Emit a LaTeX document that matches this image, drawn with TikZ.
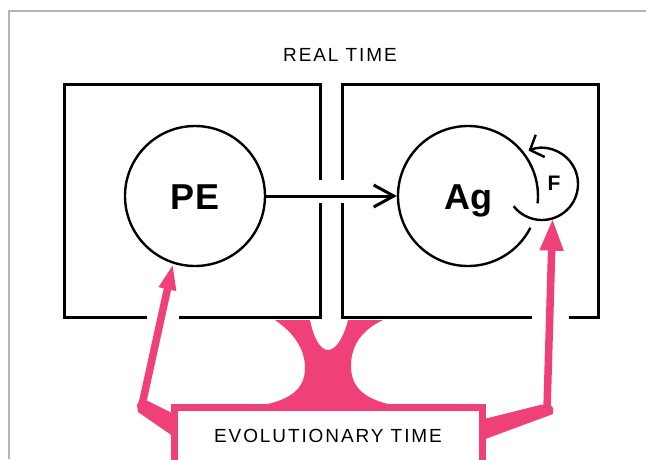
\documentclass[tikz,border=0pt]{standalone}
\usepackage{fontspec}
\setmainfont{Liberation Sans}
\usetikzlibrary{arrows.meta,positioning,backgrounds}
\definecolor{evopink}{HTML}{F04078}
\definecolor{framegray}{HTML}{B4B4B4}
\tikzset{
  ring/.style={circle,minimum size=140pt,inner sep=0pt,line width=2.4pt,text height=26pt,text depth=0pt,font=\fontsize{36}{40}\selectfont\bfseries},
  ringline/.style={line width=2.4pt},
  wall/.style={line width=3pt},
  flow/.style={line width=3pt,-{Straight Barb[length=20pt,width=22pt]}},
  shaft/.style={evopink,line width=7.5pt,line cap=round},
  caption/.style={font=\fontsize{19}{23}\selectfont\addfontfeature{LetterSpace=10}}
}

\begin{document}
\begin{tikzpicture}[x=1pt,y=-1pt]
  \useasboundingbox (0,0) rectangle (646,459);
  \draw[framegray,line width=1.5pt] (9,459) -- (9,11) -- (646,11);

  \draw[wall] (179,317) -- (320,317) -- (320,203);
  \draw[wall] (320,180) -- (320,84) -- (64,84) -- (64,317) -- (147,317);
  \draw[wall] (342,203) -- (342,317) -- (532,317);
  \draw[wall] (569,317) -- (598,317) -- (598,84) -- (342,84) -- (342,180);

  \node[ring,draw] (pe) at (195,196) {PE};
  \node[ring] (ag) at (468,196) {Ag};
  \draw[ringline] ([shift={(27:70)}]ag.center) arc[start angle=27,end angle=366,radius=70];
  \node[circle,minimum size=72pt,inner sep=0pt] (floop) at (542,184) {};
  \draw[ringline,-{Straight Barb[length=11pt,width=24pt]}] ([shift={(142:36)}]floop.center) arc[start angle=142,end angle=-112,radius=36];
  \node[font=\fontsize{21}{24}\selectfont\bfseries] (f) at (554,183) {F};
  \draw[flow] (pe) -- (ag);

  \node[caption] (real) at (340,55) {REAL TIME};
  \node[caption,draw=evopink,line width=7pt,fill=white,minimum width=308pt,minimum height=57pt] (evo) at (328,435.5) {EVOLUTIONARY TIME};

  \begin{scope}[on background layer]
    \fill[evopink] (275,320) .. controls (297,335) and (305,352) .. (305,368)
      .. controls (305,388) and (292,402) .. (250,407) -- (405,407)
      .. controls (365,402) and (351,388) .. (351,366)
      .. controls (351,345) and (362,330) .. (383,320) -- (348,320)
      .. controls (343,340) and (335,350) .. (328,350)
      .. controls (321,350) and (314,340) .. (310,320) -- cycle;
    \fill[evopink] (180,417) -- (148,401) -- (139,401) -- (137,405) -- (138,412) -- (180,441) -- cycle;
    \fill[evopink] (480,420) -- (540,405) -- (550,404) -- (553,408) -- (553,414) -- (480,441) -- cycle;
    \coordinate (lbend) at (142,405);
    \coordinate (rbend) at (547,409);
    \draw[shaft,-{Triangle[length=26pt,width=16pt]}] (lbend) -- (pe.252);
    \draw[shaft,-{Triangle[length=32pt,width=22pt]}] (rbend) -- (floop.-73);
  \end{scope}
\end{tikzpicture}
\end{document}
